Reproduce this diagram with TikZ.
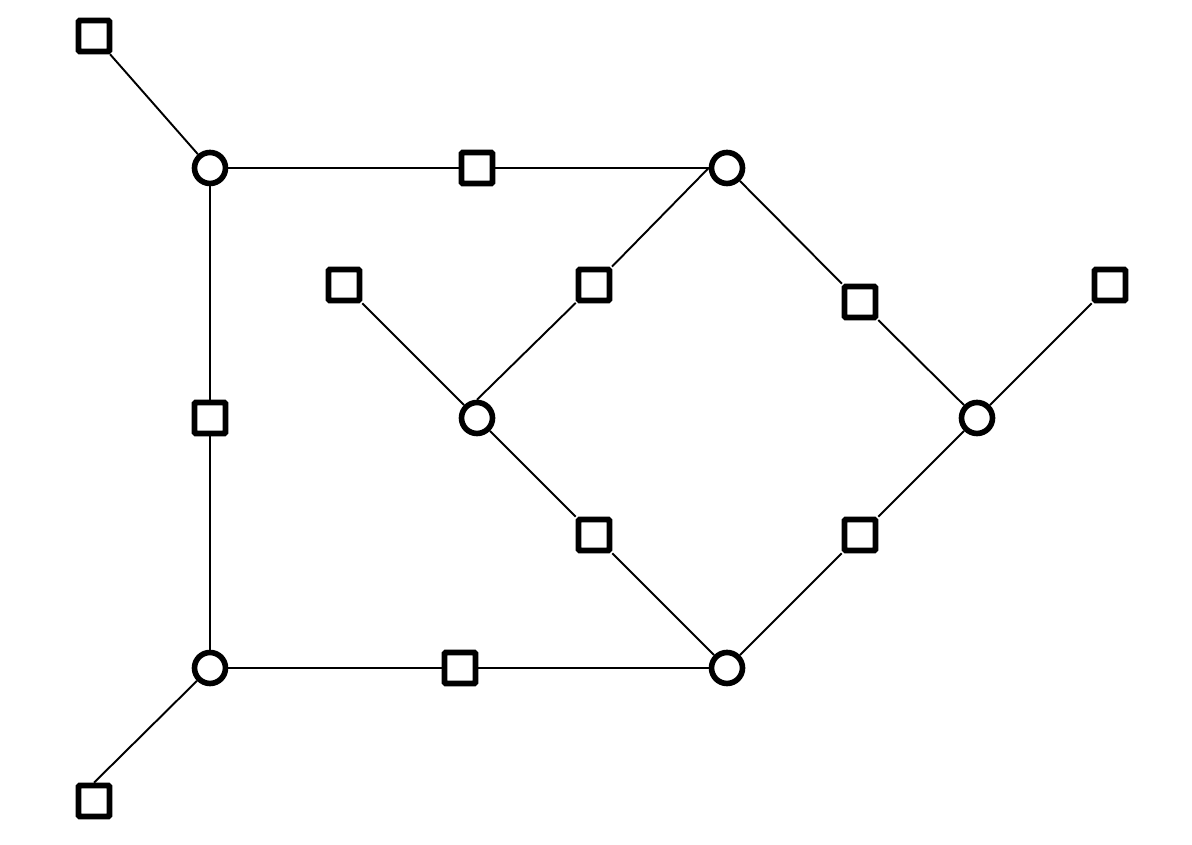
\documentclass[tikz,border=0pt]{standalone}
\tikzset{
  vert/.style={circle,draw,line width=3.2pt,fill=white,minimum size=0.62cm,inner sep=0pt},
  fac/.style={rectangle,draw,line width=3.2pt,fill=white,minimum size=0.62cm,inner sep=0pt,rounded corners=0.6pt},
  link/.style={line width=1.1pt}
}
\begin{document}
\begin{tikzpicture}

\useasboundingbox (0,0) rectangle (23.84,16.9);

% variables
\node[vert] (a) at (4.2,13.54) {};
\node[vert] (b) at (14.54,13.54) {};
\node[vert] (c) at (9.54,8.54) {};
\node[vert] (d) at (19.54,8.54) {};
\node[vert] (e) at (4.2,3.54) {};
\node[vert] (f) at (14.54,3.54) {};

% factors
\node[fac] (fa)  at (1.88,16.18) {};
\node[fac] (fab) at (9.54,13.54) {};
\node[fac] (fbc) at (11.88,11.2) {};
\node[fac] (fc)  at (6.88,11.2) {};
\node[fac] (fbd) at (17.2,10.86) {};
\node[fac] (fd)  at (22.2,11.2) {};
\node[fac] (fae) at (4.2,8.54) {};
\node[fac] (fcf) at (11.88,6.2) {};
\node[fac] (fdf) at (17.2,6.2) {};
\node[fac] (fef) at (9.2,3.54) {};
\node[fac] (fe)  at (1.88,0.88) {};

\draw[link] (fa) -- (a);
\draw[link] (a) -- (fab) -- (b);
\draw[link] (b.west) -- (fbc) -- (c.north);
\draw[link] (fc) -- (c);
\draw[link] (b) -- (fbd) -- (d);
\draw[link] (fd) -- (d);
\draw[link] (a) -- (fae) -- (e);
\draw[link] (c) -- (fcf) -- (f.north west);
\draw[link] (d) -- (fdf) -- (f);
\draw[link] (e) -- (fef) -- (f);
\draw[link] (e) -- (fe.north);

\end{tikzpicture}
\end{document}
